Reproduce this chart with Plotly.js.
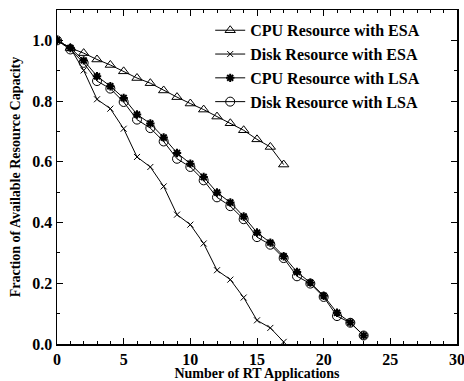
<!DOCTYPE html>
<html>
<head>
<meta charset="utf-8">
<script src="https://cdn.plot.ly/plotly-3.0.1.min.js"></script>
<style>html,body{margin:0;padding:0;background:#fff;}#chart{width:464px;height:381px;}</style>
</head>
<body>
<div id="chart"></div>
<script>
const xCpuEsa = [0,1,2,3,4,5,6,7,8,9,10,11,12,13,14,15,16,17];
const cpuEsa = [1.0,0.975,0.958,0.937,0.919,0.898,0.876,0.859,0.835,0.813,0.792,0.772,0.749,0.727,0.704,0.674,0.649,0.591];
const xDiskEsa = [0,1,2,3,4,5,6,7,8,9,10,11,12,13,14,15,16,17];
const diskEsa = [1.0,0.975,0.901,0.806,0.775,0.709,0.616,0.583,0.519,0.426,0.393,0.331,0.243,0.212,0.153,0.078,0.053,0.007];
const xLsa = [0,1,2,3,4,5,6,7,8,9,10,11,12,13,14,15,16,17,18,19,20,21,22,23];
const cpuLsa = [1.0,0.975,0.934,0.882,0.849,0.810,0.756,0.726,0.680,0.629,0.594,0.550,0.499,0.466,0.420,0.367,0.334,0.289,0.237,0.202,0.159,0.103,0.071,0.028];
const diskLsa = [1.0,0.970,0.926,0.866,0.841,0.797,0.739,0.711,0.667,0.610,0.583,0.539,0.483,0.454,0.411,0.352,0.327,0.283,0.223,0.199,0.155,0.092,0.070,0.028];
const seriesNames = ["CPU Resource with ESA","Disk Resource with ESA","CPU Resource with LSA","Disk Resource with LSA"];

const font = {family: "Liberation Serif, Times New Roman, serif", color: "#000", weight: "bold"};
const line = {color: "#000", width: 1};
const traces = [
  {x: xCpuEsa, y: cpuEsa, name: seriesNames[0], mode: "lines+markers", line: line,
   marker: {symbol: "triangle-up-open", size: 9, color: "#000", line: {width: 1}}},
  {x: xDiskEsa, y: diskEsa, name: seriesNames[1], mode: "lines+markers", line: line,
   marker: {symbol: "x-thin-open", size: 6, color: "#000", line: {width: 1}}},
  {x: xLsa, y: cpuLsa, name: seriesNames[2], mode: "lines+markers", line: line,
   marker: {symbol: "asterisk-open", size: 7, color: "#000", line: {width: 2}}},
  {x: xLsa, y: diskLsa, name: seriesNames[3], mode: "lines+markers", line: line,
   marker: {symbol: "circle-open", size: 9, color: "#000", line: {width: 1}}}
];
const axisCommon = {
  showgrid: false, zeroline: false, showline: true, linecolor: "#000", linewidth: 1.5,
  ticks: "inside", ticklen: 6, tickwidth: 1, tickcolor: "#000", mirror: "allticks",
  ticklabeloverflow: "allow",
  tickfont: Object.assign({size: 16}, font)
};
const layout = {
  width: 464, height: 381,
  margin: {l: 57, r: 7, t: 10, b: 37},
  paper_bgcolor: "#fff", plot_bgcolor: "#fff",
  showlegend: true,
  legend: {x: 0.383, y: 0.99, xanchor: "left", yanchor: "top", bgcolor: "rgba(0,0,0,0)",
    font: Object.assign({size: 16}, font), tracegroupgap: 0, itemwidth: 30},
  xaxis: Object.assign({}, axisCommon, {range: [0, 30], dtick: 5, tick0: 0,
    minor: {dtick: 1, ticks: "inside", ticklen: 3, tickcolor: "#000"},
    title: {text: "Number of RT Applications", font: Object.assign({size: 14}, font), standoff: 3}}),
  yaxis: Object.assign({}, axisCommon, {range: [0, 1.1], dtick: 0.2, tick0: 0, tickformat: ".1f",
    minor: {dtick: 0.1, ticks: "inside", ticklen: 3, tickcolor: "#000"},
    title: {text: "Fraction of Available Resource Capacity", font: Object.assign({size: 14}, font), standoff: 8}})
};
Plotly.newPlot("chart", traces, layout, {displayModeBar: false, staticPlot: true});
</script>
</body>
</html>
